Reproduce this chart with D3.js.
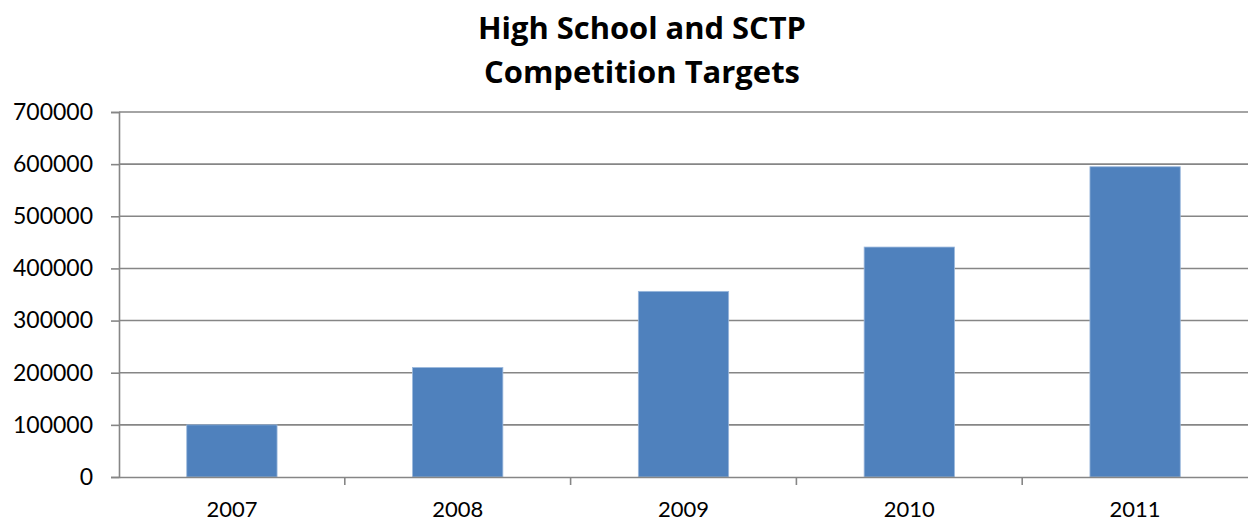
<!DOCTYPE html>
<html>
<head>
<meta charset="utf-8">
<script src="https://cdn.jsdelivr.net/npm/d3@7"></script>
<style>
  body { margin: 0; background: #fff; }
  svg { display: block; }
</style>
</head>
<body>
<svg></svg>
<script>
const years = ['2007', '2008', '2009', '2010', '2011'];
const targets = [100000, 210000, 356000, 441000, 595000];
const yTicks = [0, 100000, 200000, 300000, 400000, 500000, 600000, 700000];
const titleLines = ['High School and SCTP', 'Competition Targets'];

const width = 1248;
const height = 523;
const plotLeft = 119;
const plotRight = 1248;
const plotTop = 112;
const plotBottom = 477;
const gridColor = '#868686';

const svg = d3.select('svg')
  .attr('width', width)
  .attr('height', height);

const x = d3.scaleBand()
  .domain(years)
  .range([plotLeft, plotRight])
  .paddingInner(0.6)
  .paddingOuter(0.3);

const y = d3.scaleLinear()
  .domain([0, 700000])
  .range([plotBottom, plotTop]);

// title
svg.selectAll('text.title')
  .data(titleLines)
  .enter()
  .append('text')
    .attr('class', 'title')
    .attr('x', 642)
    .attr('y', (d, i) => 39 + i * 44)
    .attr('text-anchor', 'middle')
    .attr('font-family', 'Open Sans, sans-serif')
    .attr('font-weight', 'bold')
    .attr('font-size', 30)
    .attr('textLength', (d, i) => i === 0 ? 328 : 316)
    .attr('lengthAdjust', 'spacingAndGlyphs')
    .attr('fill', '#000')
    .text((d) => d);

// gridlines
svg.append('g')
  .selectAll('line')
  .data(yTicks.filter((d) => d > 0))
  .enter()
  .append('line')
    .attr('x1', plotLeft)
    .attr('x2', plotRight)
    .attr('y1', (d) => y(d))
    .attr('y2', (d) => y(d))
    .attr('stroke', gridColor)
    .attr('stroke-width', 1.6);

// bars
svg.append('g')
  .selectAll('rect')
  .data(targets)
  .enter()
  .append('rect')
    .attr('x', (d, i) => x(years[i]))
    .attr('y', (d) => y(d))
    .attr('width', x.bandwidth())
    .attr('height', (d) => plotBottom - y(d))
    .attr('fill', '#4f81bd')
    .attr('stroke', '#9bb8dc')
    .attr('stroke-width', 0.8);

// y axis
const yAxis = svg.append('g')
  .attr('transform', `translate(${plotLeft},0)`)
  .call(d3.axisLeft(y).tickValues(yTicks).tickFormat(d3.format('d')).tickSize(8).tickPadding(18));
yAxis.select('.domain').attr('stroke', gridColor).attr('stroke-width', 1.6);
yAxis.selectAll('.tick line').attr('stroke', gridColor).attr('stroke-width', 1.6);
yAxis.selectAll('.tick text')
  .attr('font-family', 'Lato, sans-serif')
  .attr('font-size', 23)
  .attr('fill', '#000');

// x axis
const xAxis = svg.append('g')
  .attr('transform', `translate(0,${plotBottom})`)
  .call(d3.axisBottom(x).tickSize(0).tickPadding(24));
xAxis.select('.domain').attr('stroke', gridColor).attr('stroke-width', 1.6);
xAxis.selectAll('.tick text')
  .attr('font-family', 'Lato, sans-serif')
  .attr('font-size', 22)
  .attr('fill', '#000');

// category boundary ticks
svg.append('g')
  .selectAll('line')
  .data(years.slice(1))
  .enter()
  .append('line')
    .attr('x1', (d) => x(d) - x.step() * 0.3)
    .attr('x2', (d) => x(d) - x.step() * 0.3)
    .attr('y1', plotBottom)
    .attr('y2', plotBottom + 8)
    .attr('stroke', gridColor)
    .attr('stroke-width', 1.6);
</script>
</body>
</html>
